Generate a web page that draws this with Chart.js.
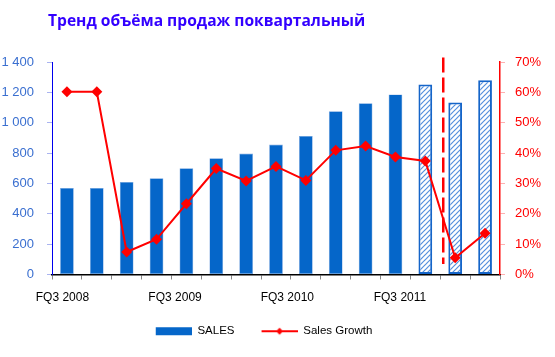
<!DOCTYPE html>
<html><head><meta charset="utf-8">
<script src="https://cdn.jsdelivr.net/npm/chart.js@4/dist/chart.umd.min.js"></script>
<style>html,body{margin:0;padding:0;background:#fff}#wrap{width:555px;height:357px}</style>
</head><body><div id="wrap"><canvas id="c" width="555" height="357"></canvas></div>
<script>
const chartTitle = 'Тренд объёма продаж поквартальный';
const categories = ['FQ3 2008','FQ4 2008','FQ1 2009','FQ2 2009','FQ3 2009','FQ4 2009','FQ1 2010','FQ2 2010','FQ3 2010','FQ4 2010','FQ1 2011','FQ2 2011','FQ3 2011','FQ4 2011','FQ1 2012'];
const salesValues = [570, 570, 610, 634, 700, 766, 797, 856, 913, 1076, 1129, 1186, 1252, 1134, 1279];
const growthValues = [60.2, 60.2, 7.4, 11.6, 23.3, 34.9, 30.8, 35.6, 31.0, 40.9, 42.3, 38.7, 37.4, 5.5, 13.6];
const forecastFlags = [false,false,false,false,false,false,false,false,false,false,false,false,true,true,true];
const xTickLabels = ['FQ3 2008','FQ3 2009','FQ3 2010','FQ3 2011'];
const seriesNames = ['SALES','Sales Growth'];

const BLUE = '#0566c9';
const RED = '#ff0000';
const FONT = "'Liberation Sans', Arial, sans-serif";

// hatch pattern
const pc = document.createElement('canvas'); pc.width = 5; pc.height = 5;
const px = pc.getContext('2d');
px.fillStyle = '#ffffff'; px.fillRect(0,0,5,5);
px.strokeStyle = '#5590dc'; px.lineWidth = 1.2;
px.beginPath(); px.moveTo(-1,6); px.lineTo(6,-1); px.stroke();
px.beginPath(); px.moveTo(-1,1); px.lineTo(1,-1); px.stroke();
px.beginPath(); px.moveTo(4,6); px.lineTo(6,4); px.stroke();
const hatch = px.createPattern(pc, 'repeat');

// legend images (transparent left part gives the spacing between items)
const GAP = 25;
const LW = 36 + GAP;
function mkImg(draw){ const c=document.createElement('canvas'); c.width=LW; c.height=12; const g=c.getContext('2d'); draw(g); return c; }
const salesImg = mkImg(g=>{ g.fillStyle=BLUE; g.fillRect(LW-36,2,36,8); });
const growthImg = mkImg(g=>{ g.strokeStyle=RED; g.lineWidth=2; g.beginPath(); g.moveTo(LW-36,6); g.lineTo(LW,6); g.stroke();
  const cx=LW-18; g.fillStyle=RED; g.beginPath(); g.moveTo(cx,2.5); g.lineTo(cx+3.5,6); g.lineTo(cx,9.5); g.lineTo(cx-3.5,6); g.closePath(); g.fill(); });

const fmt = v => v >= 1000 ? Math.floor(v/1000) + ' ' + String(v%1000).padStart(3,'0') : String(v);

const titlePlugin = {
  id: 'customTitle',
  afterDraw(chart){
    const ctx = chart.ctx; ctx.save();
    ctx.font = "bold 15.6px 'Open Sans', sans-serif";
    ctx.fillStyle = '#3300ff'; ctx.textBaseline = 'middle'; ctx.textAlign = 'left';
    ctx.fillText(chartTitle, 48, 22);
    ctx.restore();
  }
};
const dashPlugin = {
  id: 'forecastLine',
  afterDatasetsDraw(chart){
    const xs = chart.scales.x, ys = chart.scales.y;
    const idx = forecastFlags.indexOf(true);
    const x = xs.getPixelForValue(idx + 0.6);
    const ctx = chart.ctx; ctx.save();
    ctx.strokeStyle = RED; ctx.lineWidth = 2.5; ctx.setLineDash([15,5]);
    ctx.beginPath(); ctx.moveTo(x, ys.getPixelForValue(1430)); ctx.lineTo(x, ys.getPixelForValue(70)); ctx.stroke();
    ctx.restore();
  }
};

new Chart(document.getElementById('c'), {
  data: {
    labels: categories,
    datasets: [
      { type:'bar', label: seriesNames[0], data: salesValues, yAxisID:'y', xAxisID:'x', order: 2,
        backgroundColor: forecastFlags.map(f => f ? hatch : BLUE),
        borderColor: forecastFlags.map(f => f ? '#1565c9' : '#7fa8e0'),
        borderWidth: forecastFlags.map(f => f ? 2 : 0.6),
        borderSkipped: false,
        categoryPercentage: 1, barPercentage: 0.46 },
      { type:'line', label: seriesNames[1], data: growthValues, yAxisID:'y1', xAxisID:'x', order: 0,
        borderColor: RED, backgroundColor: RED, borderWidth: 2, pointStyle:'rectRot', pointRadius: 5.5,
        pointBorderWidth: 0, tension: 0 }
    ]
  },
  options: {
    responsive: false, animation: false, devicePixelRatio: 1,
    layout: { padding: { left: -52, right: 0, top: 62, bottom: 10 } },
    plugins: {
      tooltip: { enabled: false },
      title: { display: false },
      legend: {
        position: 'bottom', align: 'center',
        labels: {
          usePointStyle: true, pointStyleWidth: LW, padding: 2,
          font: { family: FONT, size: 11.5 }, color: '#000',
          generateLabels: () => [
            { text: seriesNames[0], pointStyle: salesImg, fillStyle: BLUE, strokeStyle: BLUE, lineWidth: 0, datasetIndex: 0 },
            { text: seriesNames[1], pointStyle: growthImg, fillStyle: RED, strokeStyle: RED, lineWidth: 0, datasetIndex: 1 }
          ]
        }
      }
    },
    scales: {
      x: { type:'category', position:'bottom', offset: true,
        grid: { display: true, drawOnChartArea: false, drawTicks: true, tickLength: 5, color: '#888', offset: true },
        border: { display: true, color: '#000', width: 1.5 },
        ticks: { display: false },
        afterFit: s => { s.height = 5; } },
      x2: { type:'linear', position:'bottom', min: 0, max: 15,
        grid: { display: false, drawTicks: false }, border: { display: false },
        afterBuildTicks: s => { s.ticks = [0.35, 4.12, 7.88, 11.65].map(v => ({ value: v })); },
        ticks: { autoSkip: false, maxRotation: 0, padding: 11, color: '#000', font: { family: FONT, size: 12 },
          callback: (v, i) => xTickLabels[i] },
        afterFit: s => { s.height = 44; } },
      y: { type:'linear', position:'left', min: 0, max: 1400,
        ticks: { stepSize: 200, color: '#3a6fd0', padding: 13, font: { family: FONT, size: 13 }, callback: v => fmt(v) },
        grid: { display: true, drawOnChartArea: false, tickLength: 5, color: '#aab4f0' },
        border: { display: true, color: '#0000ee', width: 1 },
        afterFit: s => { s.width = 104; } },
      y1: { type:'linear', position:'right', min: 0, max: 70,
        ticks: { stepSize: 10, color: RED, padding: 10, font: { family: FONT, size: 13 }, callback: v => v + '%' },
        grid: { display: true, drawOnChartArea: false, tickLength: 5, color: '#ffb0b0' },
        border: { display: true, color: RED, width: 1.5 },
        afterFit: s => { s.width = 55; } }
    }
  },
  plugins: [titlePlugin, dashPlugin]
});
</script>
</body></html>
